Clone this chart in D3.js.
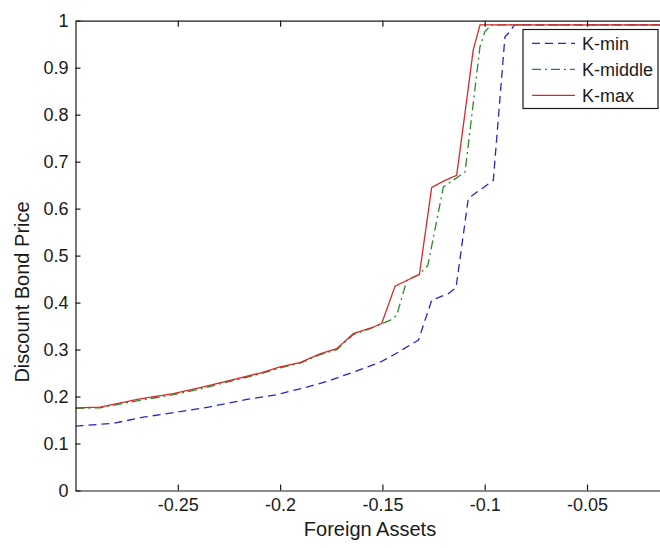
<!DOCTYPE html>
<html lang="en">
<head>
<meta charset="utf-8">
<style>
  body { margin: 0; background: #fff; }
  text { font-family: "Liberation Sans", Arial, sans-serif; fill: #1a1a1a; }
</style>
</head>
<body>
<script src="https://d3js.org/d3.v7.min.js"></script>
<script>
// data
const xTicks = [-0.25, -0.2, -0.15, -0.1, -0.05];
const yTicks = [0, 0.1, 0.2, 0.3, 0.4, 0.5, 0.6, 0.7, 0.8, 0.9, 1];

const kMinX = [-0.3, -0.297, -0.2815, -0.2669, -0.2505, -0.2343, -0.2163, -0.2017, -0.187, -0.1772, -0.1642, -0.1512, -0.1463, -0.1324, -0.1259, -0.1178, -0.114, -0.108, -0.0958, -0.0901, -0.0876, -0.0855, 0];
const kMinY = [0.137, 0.138, 0.143, 0.156, 0.167, 0.178, 0.194, 0.204, 0.22, 0.232, 0.252, 0.273, 0.284, 0.32, 0.405, 0.419, 0.432, 0.622, 0.66, 0.966, 0.977, 0.991, 0.991];

const kMidX = [-0.3, -0.288, -0.2685, -0.2522, -0.2391, -0.2229, -0.2098, -0.2, -0.1903, -0.1805, -0.1723, -0.1642, -0.1544, -0.1503, -0.1463, -0.143, -0.1381, -0.1319, -0.1278, -0.1202, -0.1096, -0.1023, -0.0999, -0.0966, 0];
const kMidY = [0.175, 0.176, 0.192, 0.204, 0.216, 0.234, 0.248, 0.261, 0.271, 0.289, 0.3, 0.332, 0.347, 0.355, 0.362, 0.373, 0.447, 0.46, 0.479, 0.646, 0.678, 0.945, 0.977, 0.991, 0.991];

const kMaxX = [-0.3, -0.288, -0.2685, -0.2522, -0.2391, -0.2229, -0.2098, -0.2, -0.1903, -0.1805, -0.1723, -0.1642, -0.1544, -0.1503, -0.1438, -0.1381, -0.1319, -0.1259, -0.1194, -0.1137, -0.1088, -0.1056, -0.1023, 0];
const kMaxY = [0.176, 0.1775, 0.195, 0.206, 0.219, 0.236, 0.25, 0.263, 0.272, 0.291, 0.302, 0.334, 0.348, 0.356, 0.435, 0.447, 0.46, 0.645, 0.66, 0.671, 0.831, 0.938, 0.991, 0.991];

const seriesNames = ["K-min", "K-middle", "K-max"];

const width = 660, height = 548;
const plotL = 75.5, plotR = 689.3, plotT = 20.7, plotB = 490.5;

const svg = d3.select("body").append("svg")
  .attr("width", width)
  .attr("height", height);

svg.append("rect").attr("width", width).attr("height", height).attr("fill", "#fff");

const x = d3.scaleLinear().domain([-0.3, 0]).range([plotL, plotR]);
const y = d3.scaleLinear().domain([0, 1]).range([plotB, plotT]);

const series = [
  { name: seriesNames[0], xs: kMinX, ys: kMinY, color: "#2424c8", dash: "8,5" },
  { name: seriesNames[1], xs: kMidX, ys: kMidY, color: "#2a8a2a", dash: "9,4,2,4" },
  { name: seriesNames[2], xs: kMaxX, ys: kMaxY, color: "#d82828", dash: null }
];

const line = d3.line().x(d => x(d[0])).y(d => y(d[1]));

svg.append("defs").append("clipPath").attr("id", "plot")
  .append("rect").attr("x", plotL).attr("y", plotT - 2).attr("width", plotR - plotL).attr("height", plotB - plotT + 2);

const g = svg.append("g").attr("clip-path", "url(#plot)");
series.forEach(s => {
  g.append("path")
    .datum(s.xs.map((v, i) => [v, s.ys[i]]))
    .attr("fill", "none")
    .attr("stroke", s.color)
    .attr("stroke-width", 1.3)
    .attr("stroke-dasharray", s.dash)
    .attr("d", line);
});

// axes
const fmt = d => String(+d.toFixed(2));

svg.append("g").attr("transform", `translate(0,${plotB})`)
  .call(d3.axisBottom(x).tickValues(xTicks).tickSize(-6).tickSizeOuter(0).tickPadding(8).tickFormat(fmt));
svg.append("g").attr("transform", `translate(0,${plotT})`)
  .call(d3.axisTop(x).tickValues(xTicks).tickSize(-6).tickSizeOuter(0).tickFormat(""));
svg.append("g").attr("transform", `translate(${plotL},0)`)
  .call(d3.axisLeft(y).tickValues(yTicks).tickSize(-5).tickSizeOuter(0).tickPadding(7).tickFormat(fmt));

svg.selectAll(".domain, .tick line").attr("stroke", "#1a1a1a").attr("stroke-width", 1.2);
svg.selectAll(".tick text").attr("font-size", 18).attr("fill", "#1a1a1a")
  .style("font-family", '"Liberation Sans", Arial, sans-serif');

svg.append("text")
  .attr("x", 370).attr("y", 536)
  .attr("text-anchor", "middle")
  .attr("font-size", 20)
  .text("Foreign Assets");

svg.append("text")
  .attr("transform", "translate(29,292) rotate(-90)")
  .attr("text-anchor", "middle")
  .attr("font-size", 20)
  .text("Discount Bond Price");

// legend
const lg = svg.append("g");
lg.append("rect")
  .attr("x", 523).attr("y", 29.5).attr("width", 135).attr("height", 79)
  .attr("fill", "#fff").attr("stroke", "#1a1a1a").attr("stroke-width", 1.2);
series.forEach((s, i) => {
  const cy = 43.3 + i * 26;
  lg.append("line")
    .attr("x1", 532).attr("x2", 575).attr("y1", cy).attr("y2", cy)
    .attr("stroke", s.color).attr("stroke-width", 1.3)
    .attr("stroke-dasharray", s.dash);
  lg.append("text")
    .attr("x", 582).attr("y", cy + 6.5)
    .attr("font-size", 18)
    .text(s.name);
});
</script>
</body>
</html>
